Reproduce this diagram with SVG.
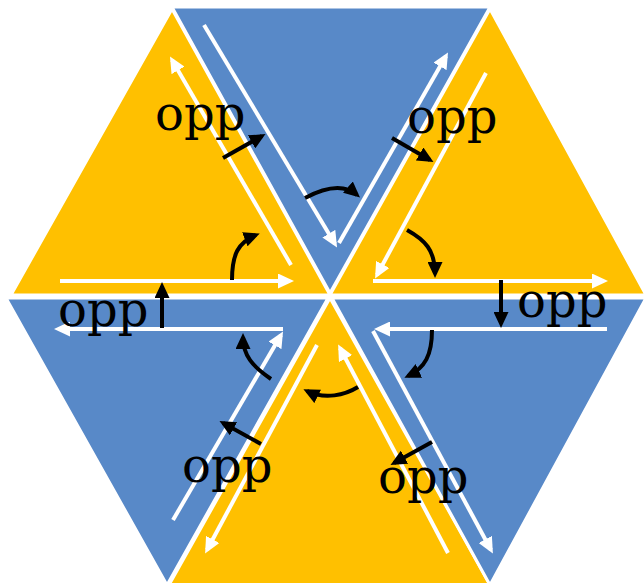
<svg xmlns="http://www.w3.org/2000/svg" width="644" height="583" viewBox="0 0 644 583">
<defs>
<style>
.y{fill:#FFC000;stroke:#fff;stroke-width:3;stroke-linejoin:miter}
.b{fill:#5889C8;stroke:#fff;stroke-width:3;stroke-linejoin:miter}
.w{fill:none;stroke:#fff;stroke-width:4;marker-end:url(#wh)}
.k{fill:none;stroke:#000;stroke-width:4;marker-end:url(#bh)}
.t{font-family:"DejaVu Serif","Liberation Serif",serif;font-size:48px;fill:#000}
</style>
<marker id="wh" viewBox="0 0 16 15" refX="12" refY="7.5" markerWidth="16" markerHeight="15" markerUnits="userSpaceOnUse" orient="auto"><path d="M0,0 L16,7.5 L0,15 z" fill="#fff"/></marker>
<marker id="bh" viewBox="0 0 16 15" refX="12" refY="7.5" markerWidth="16" markerHeight="15" markerUnits="userSpaceOnUse" orient="auto"><path d="M0,0 L16,7.5 L0,15 z" fill="#000"/></marker>
</defs>
<rect width="644" height="583" fill="#fff"/>
<g id="tri-top-left"><polygon class="y" points="172,9 11,295 330,295"/></g>
<g id="tri-top"><polygon class="b" points="172,7 490,7 330,293"/></g>
<g id="tri-top-right"><polygon class="y" points="490,9 330,295 646,295"/></g>
<g id="tri-bottom-left"><polygon class="b" points="6,298 328,298 167,585"/></g>
<g id="tri-bottom"><polygon class="y" points="330,298 169,585 490,585"/></g>
<g id="tri-bottom-right"><polygon class="b" points="332,298 646,298 490,585"/></g>
<g id="connectors">
<line class="w" x1="291" y1="265" x2="172" y2="60"/>
<line class="w" x1="60" y1="281" x2="290" y2="281"/>
<line class="w" x1="204" y1="25" x2="335" y2="244"/>
<line class="w" x1="339" y1="243" x2="446" y2="56"/>
<line class="w" x1="486" y1="73" x2="377" y2="275"/>
<line class="w" x1="373" y1="281" x2="604" y2="281"/>
<line class="w" x1="283" y1="329" x2="58" y2="329"/>
<line class="w" x1="173" y1="520" x2="281" y2="335"/>
<line class="w" x1="317" y1="345" x2="207" y2="550"/>
<line class="w" x1="448" y1="553" x2="340" y2="348"/>
<line class="w" x1="607" y1="329" x2="378" y2="329"/>
<line class="w" x1="373" y1="331" x2="491" y2="550"/>
<line class="k" x1="223" y1="158" x2="262" y2="136"/>
<path class="k" d="M232,280 C232,255 238,242 256,235"/>
<path class="k" d="M305,198 C320,190 342,182 357,195"/>
<line class="k" x1="392" y1="138" x2="430" y2="160"/>
<path class="k" d="M407,230 C425,240 435,250 435,274"/>
<line class="k" x1="501" y1="280" x2="501" y2="324"/>
<line class="k" x1="162" y1="328" x2="162" y2="286"/>
<path class="k" d="M271,379 C252,366 243,355 243,337"/>
<line class="k" x1="261" y1="444" x2="223" y2="423"/>
<path class="k" d="M358,387 C345,395 325,400 307,391"/>
<path class="k" d="M432,330 C432,355 425,368 408,376"/>
<line class="k" x1="432" y1="442" x2="394" y2="463"/>
</g>
<g id="labels">
<text class="t" x="155" y="130">opp</text>
<text class="t" x="407" y="133">opp</text>
<text class="t" x="58" y="326">opp</text>
<text class="t" x="517" y="317">opp</text>
<text class="t" x="182" y="482">opp</text>
<text class="t" x="378" y="493">opp</text>
</g>
</svg>
